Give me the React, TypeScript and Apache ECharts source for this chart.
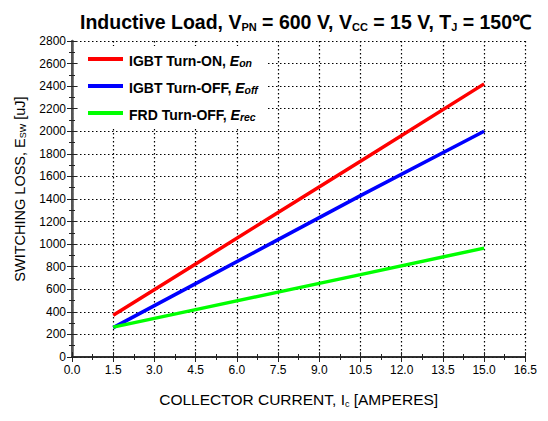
import React, { useEffect, useRef } from "react";
import * as echarts from "echarts";

const currents = [1.5, 4.5, 7.5, 10.5, 15.0];
const eOn = [370, 825, 1280, 1735, 2420];
const eOff = [260, 650, 1040, 1430, 2000];
const eRec = [265, 420, 575, 730, 965];
const seriesNames = ["IGBT Turn-ON, E_on", "IGBT Turn-OFF, E_off", "FRD Turn-OFF, E_rec"];
const seriesColors = ["#ff0000", "#0000ff", "#00ff00"];
const FONT = "'Liberation Sans', Arial, sans-serif";

export default function App() {
  const ref = useRef<HTMLDivElement>(null);
  useEffect(() => {
    const chart = echarts.init(ref.current!, null, { renderer: "svg" });
    const values = [eOn, eOff, eRec];
    const frame = () => ({ show: true, lineStyle: { color: "#222222", width: 1.6 } });
    const tick = () => ({ show: true, inside: true, length: 5, lineStyle: { color: "#222222" } });
    const minor = () => ({ show: true, splitNumber: 2, length: 3, lineStyle: { color: "#222222" } });
    const split = () => ({ show: true, lineStyle: { color: "#000000", type: [1.5, 2.5], width: 1.2, opacity: 1 } });
    chart.setOption({
      animation: false,
      backgroundColor: "#ffffff",
      textStyle: { fontFamily: FONT },
      title: {
        text: "{t|Inductive Load, V}{s|PN}{t| = 600 V, V}{s|CC}{t| = 15 V, T}{s|J}{t| = 150℃}",
        left: 67,
        top: -5,
        textStyle: {
          rich: {
            t: { fontSize: 19.5, fontWeight: "bold", color: "#000000", fontFamily: FONT, lineHeight: 24, verticalAlign: "bottom" },
            s: { fontSize: 11, fontWeight: "bold", color: "#000000", fontFamily: FONT, lineHeight: 8, verticalAlign: "bottom" },
          },
        },
      },
      legend: {
        orient: "vertical",
        left: 70,
        top: 38,
        padding: [8, 10, 6, 10],
        backgroundColor: "#ffffff",
        itemWidth: 35,
        itemHeight: 4,
        itemGap: 13,
        icon: "rect",
        z: 10,
        data: seriesNames,
        formatter: (name: string) => {
          const [main, sub] = name.split("E_");
          return `{t|${main}}{i|E}{s|${sub}}`;
        },
        textStyle: {
          padding: [0, 0, 0, 1],
          rich: {
            t: { fontSize: 14, fontWeight: "bold", color: "#000000", fontFamily: FONT, lineHeight: 18, verticalAlign: "bottom" },
            i: { fontSize: 14, fontWeight: "bold", fontStyle: "italic", color: "#000000", fontFamily: FONT, lineHeight: 18, verticalAlign: "bottom" },
            s: { fontSize: 10.5, fontWeight: "bold", fontStyle: "italic", color: "#000000", fontFamily: FONT, lineHeight: 5, verticalAlign: "bottom" },
          },
        },
      },
      grid: { left: 64, right: 12, top: 33, bottom: 45 },
      graphic: [
        {
          type: "text",
          x: 12,
          y: 181,
          rotation: Math.PI / 2,
          style: {
            text: "SWITCHING LOSS, E{s|SW} [uJ]",
            align: "center",
            verticalAlign: "middle",
            fontSize: 14.5,
            fontFamily: FONT,
            fill: "#000000",
            rich: {
              s: { fontSize: 9, fill: "#000000", fontFamily: FONT, lineHeight: 4, verticalAlign: "bottom" },
            },
          },
        },
      ],
      xAxis: [
        {
          type: "value",
          min: 0,
          max: 16.5,
          interval: 1.5,
          name: "COLLECTOR CURRENT, I{s|c} [AMPERES]",
          nameLocation: "middle",
          nameGap: 33,
          nameTextStyle: {
            rich: {
              s: { fontSize: 9, color: "#000000", fontFamily: FONT, lineHeight: 4, verticalAlign: "bottom" },
            },
            fontSize: 15.5,
            color: "#000000",
            fontFamily: FONT,
            lineHeight: 18,
          },
          axisLine: frame(),
          axisTick: tick(),
          minorTick: minor(),
          axisLabel: { fontSize: 12, color: "#000000", margin: 7, formatter: (v: number) => v.toFixed(1) },
          splitLine: split(),
        },
        {
          type: "value",
          position: "top",
          min: 0,
          max: 16.5,
          interval: 1.5,
          axisLine: frame(),
          axisTick: tick(),
          minorTick: minor(),
          axisLabel: { show: false },
          splitLine: { show: false },
        },
      ],
      yAxis: [
        {
          type: "value",
          min: 0,
          max: 2800,
          interval: 200,
          axisLine: frame(),
          axisTick: tick(),
          minorTick: minor(),
          axisLabel: { fontSize: 12, color: "#000000", margin: 6, formatter: (v: number) => String(v) },
          splitLine: split(),
        },
        {
          type: "value",
          position: "right",
          min: 0,
          max: 2800,
          interval: 200,
          axisLine: { show: true, lineStyle: { color: "#555555", width: 2.5 } },
          axisTick: tick(),
          minorTick: minor(),
          axisLabel: { show: false },
          splitLine: { show: false },
        },
      ],
      series: seriesNames.map((name, k) => ({
        name,
        type: "line",
        xAxisIndex: 0,
        yAxisIndex: 0,
        data: currents.map((c, i) => [c, values[k][i]]),
        showSymbol: false,
        symbol: "none",
        color: seriesColors[k],
        lineStyle: { color: seriesColors[k], width: 3.5 },
        z: 6,
      })),
    });
    return () => chart.dispose();
  }, []);
  return <div ref={ref} style={{ width: 532, height: 405 }} />;
}
